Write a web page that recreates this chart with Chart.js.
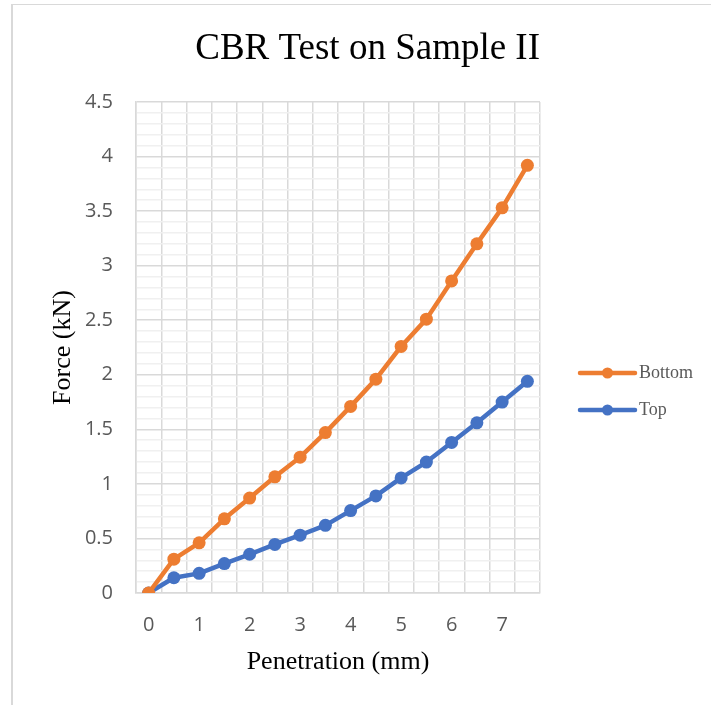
<!DOCTYPE html>
<html>
<head>
<meta charset="utf-8">
<title>CBR Test on Sample II</title>
<script src="https://cdn.jsdelivr.net/npm/chart.js@4"></script>
<style>
    html, body { margin: 0; padding: 0; background: #fff; overflow: hidden; }
    #frame { position: absolute; left: 11px; top: 4px; width: 760px; height: 760px;
             border-top: 1.5px solid #d9d9d9; border-left: 2px solid #d9d9d9; }
    #wrap { position: absolute; left: 12px; top: 6px; width: 710px; height: 700px; }
</style>
</head>
<body>
<div id="frame"></div>
<div id="wrap"><canvas id="chart"></canvas></div>
<script>
// Penetration (mm) categories, one reading every 0.5 mm
const xLabels = ['0', '0.5', '1', '1.5', '2', '2.5', '3', '3.5', '4', '4.5', '5', '5.5', '6', '6.5', '7', '7.5'];
// Force (kN)
const bottomForce = [0, 0.31, 0.46, 0.68, 0.87, 1.065, 1.245, 1.47, 1.71, 1.96, 2.26, 2.51, 2.86, 3.20, 3.53, 3.92];
const topForce = [0, 0.14, 0.18, 0.27, 0.355, 0.445, 0.53, 0.62, 0.755, 0.89, 1.055, 1.20, 1.38, 1.56, 1.75, 1.94];
const seriesNames = ['Bottom', 'Top'];
const seriesColors = ['#ED7D31', '#4472C4'];

const serif = '"Liberation Serif", "Times New Roman", serif';
const sans = '"Open Sans", "Liberation Sans", sans-serif';
const majorGrid = '#d9d9d9';
const minorGrid = '#f0f0f0';

// legend drawn on the right, Excel style (line with a marker in the middle)
const sideLegend = {
    id: 'sideLegend',
    afterDraw(chart) {
        const ctx = chart.ctx;
        const area = chart.chartArea;
        const x1 = area.right + 40, x2 = area.right + 95;
        ctx.save();
        chart.data.datasets.forEach((ds, i) => {
            const y = area.top + 271 + i * 37;
            ctx.strokeStyle = ds.borderColor;
            ctx.lineWidth = 4.5;
            ctx.lineCap = 'round';
            ctx.beginPath(); ctx.moveTo(x1, y); ctx.lineTo(x2, y); ctx.stroke();
            ctx.fillStyle = ds.borderColor;
            ctx.beginPath(); ctx.arc((x1 + x2) / 2, y, 5.5, 0, Math.PI * 2); ctx.fill();
            ctx.fillStyle = '#595959';
            ctx.font = '18px ' + serif;
            ctx.textBaseline = 'middle';
            ctx.textAlign = 'left';
            ctx.fillText(ds.label, x2 + 4, y);
        });
        ctx.restore();
    }
};

function makeSeries(name, values, color) {
    return {
        label: name,
        data: values,
        borderColor: color,
        backgroundColor: color,
        pointBackgroundColor: color,
        pointBorderColor: color,
        borderWidth: 4.5,
        pointRadius: 6.5,
        pointHoverRadius: 6.5,
        pointBorderWidth: 0,
        borderJoinStyle: 'round',
        borderCapStyle: 'round',
        tension: 0
    };
}

const isMajor = v => Math.round(v * 10) % 5 === 0;

new Chart(document.getElementById('chart'), {
    type: 'line',
    data: {
        labels: xLabels,
        datasets: [
            makeSeries(seriesNames[0], bottomForce, seriesColors[0]),
            makeSeries(seriesNames[1], topForce, seriesColors[1])
        ]
    },
    options: {
        responsive: true,
        maintainAspectRatio: false,
        animation: false,
        devicePixelRatio: 1,
        layout: { padding: { top: 0, left: 20, right: 182, bottom: 18 } },
        plugins: {
            legend: { display: false },
            tooltip: { enabled: false },
            title: {
                display: true,
                text: 'CBR Test on Sample II',
                align: 'end', // the title is centred on the whole frame, not the plot
                color: '#000',
                font: { family: serif, size: 37, weight: 'normal' },
                padding: { top: 21, bottom: 30.6 }
            }
        },
        scales: {
            x: {
                offset: true,
                grid: { offset: true, color: majorGrid, lineWidth: 1.5, drawTicks: false },
                border: { color: majorGrid, width: 1.5 },
                ticks: {
                    autoSkip: false, maxRotation: 0, padding: 20, color: '#595959',
                    font: { family: sans, size: 20 },
                    callback: (v, i) => i % 2 === 0 ? xLabels[i] : ''
                },
                title: {
                    display: true, text: 'Penetration (mm)', color: '#000',
                    font: { family: serif, size: 26 },
                    padding: { top: 0, bottom: 10 }
                },
                afterFit: s => { s.height = 95; }
            },
            y: {
                min: 0,
                max: 4.5,
                grid: {
                    color: c => (c.tick && isMajor(c.tick.value)) ? majorGrid : minorGrid,
                    lineWidth: 1.5,
                    drawTicks: false
                },
                border: { color: majorGrid, width: 1.5 },
                ticks: {
                    stepSize: 0.1, autoSkip: false, padding: 23, color: '#595959',
                    font: { family: sans, size: 20 },
                    callback: v => isMajor(v) ? String(Math.round(v * 10) / 10) : ''
                },
                title: {
                    display: true, text: 'Force (kN)', color: '#000',
                    font: { family: serif, size: 26 },
                    padding: { top: 15.4, bottom: 0 }
                },
                afterFit: s => { s.width = 104; }
            }
        }
    },
    plugins: [sideLegend]
});
</script>
</body>
</html>
